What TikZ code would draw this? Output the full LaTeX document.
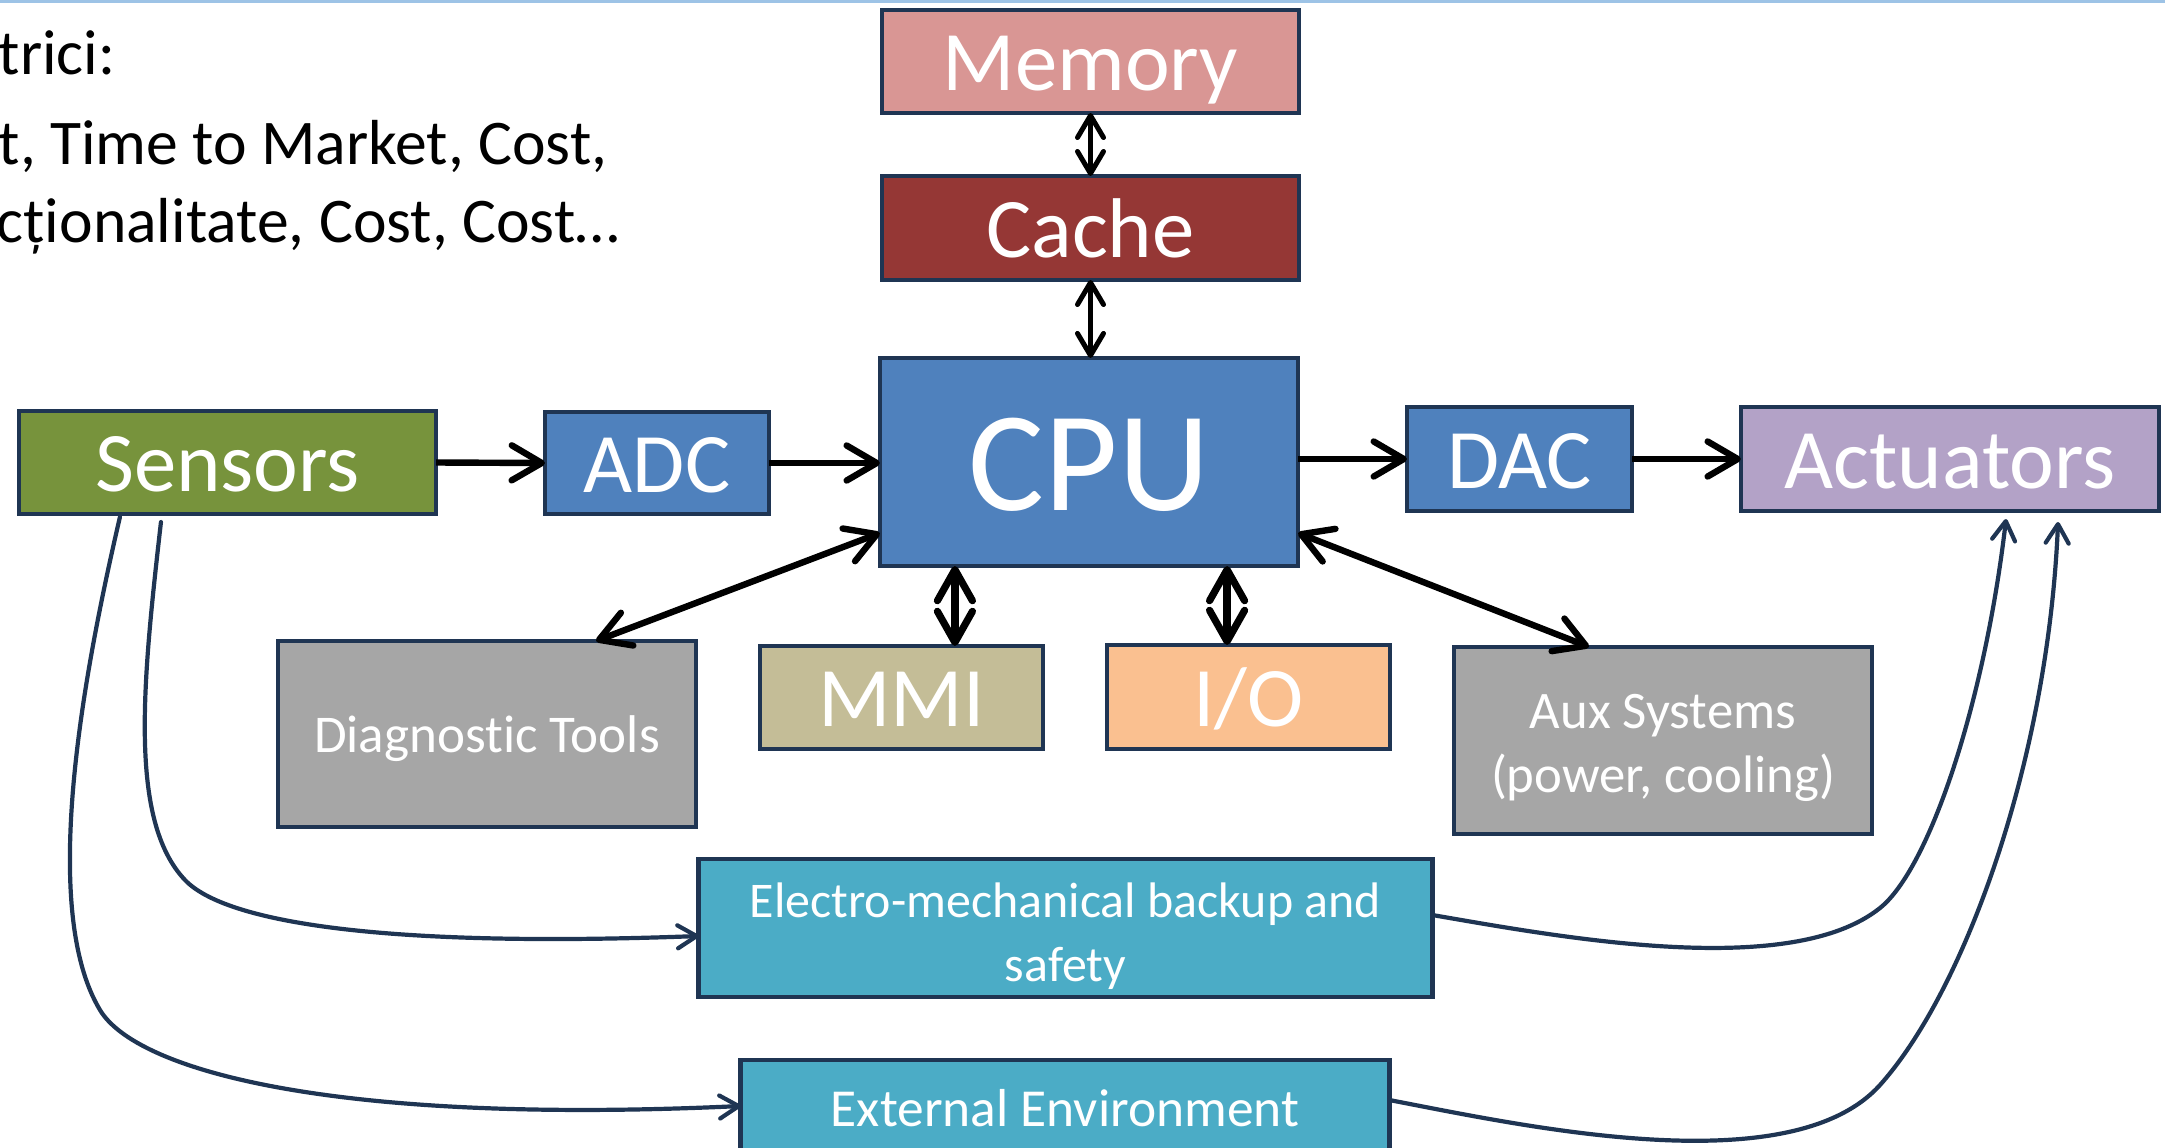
\documentclass[tikz,border=0pt]{standalone}
\usepackage{fontspec}
\setmainfont{Carlito}[Ligatures=NoCommon]
\usetikzlibrary{arrows.meta,calc}

\definecolor{frame}{RGB}{31,53,83}
\definecolor{memfill}{RGB}{217,150,148}
\definecolor{cachefill}{RGB}{149,55,53}
\definecolor{cpufill}{RGB}{79,129,189}
\definecolor{sensfill}{RGB}{119,147,60}
\definecolor{actfill}{RGB}{179,162,199}
\definecolor{greyfill}{RGB}{166,166,166}
\definecolor{mmifill}{RGB}{196,189,151}
\definecolor{iofill}{RGB}{250,192,144}
\definecolor{tealfill}{RGB}{75,172,198}
\definecolor{rulecol}{RGB}{157,195,230}

\begin{document}
\begin{tikzpicture}[x=0.01cm, y=-0.01cm,
  blk/.style={draw=frame, line width=0.047cm, inner sep=0pt, outer sep=0pt, text=white},
  big/.style={font=\fontsize{24.1}{28}\selectfont, text height=16.6pt, text depth=0pt},
  huge/.style={font=\fontsize{40.5}{46}\selectfont, text height=27.8pt, text depth=0pt},
  small/.style={font=\fontsize{#1}{18.2}\selectfont, align=center},
  smallone/.style={font=\fontsize{#1}{18.2}\selectfont, text height=10.6pt, text depth=0pt},
  note/.style={anchor=base west, inner sep=0pt, font=\fontsize{18.1}{22}\selectfont, text=black},
  thinlink/.style={line width=0.05cm, black, <->,
    >={Straight Barb[round, length=0.22cm, width=0.26cm]}},
  thicklink/.style={line width=0.064cm, black,
    >={Straight Barb[round, length=0.3cm, width=0.35cm]}},
  widelink/.style={line width=0.072cm, black, <->,
    >={Straight Barb[round, length=0.31cm, width=0.35cm]}},
  bypass/.style={line width=0.042cm, frame, line cap=round,
    -{Straight Barb[round, length=0.19cm, width=0.23cm]}}
]
\useasboundingbox (0,0) rectangle (2165,1148);
\clip (0,0) rectangle (2165,1148);

% thin rule along the top edge
\fill[rulecol] (0,0) rectangle (2165,3);

% heading text of the slide
\node[note] (t1) at (-2,74) {trici:};
\node[note] (t2) at (-2,164) {t, Time to Market, Cost,};
\node[note] (t3) at (-4,242) {cționalitate, Cost, Cost…};

% blocks
\node[blk, big, fill=memfill, minimum width=4.17cm, minimum height=1.03cm] (mem) at (1090.5,61.5) {Memory};
\node[blk, big, fill=cachefill, minimum width=4.17cm, minimum height=1.04cm] (cache) at (1090.5,228) {Cache};
\node[blk, huge, fill=cpufill, minimum width=4.18cm, minimum height=2.08cm] (cpu) at (1089,462) {CPU};
\node[blk, big, fill=sensfill, minimum width=4.17cm, minimum height=1.03cm] (sens) at (227.5,462.5) {Sensors};
\node[blk, big, fill=cpufill, minimum width=2.24cm, minimum height=1.02cm] (adc) at (657,463) {ADC};
\node[blk, big, fill=cpufill, minimum width=2.25cm, minimum height=1.04cm] (dac) at (1519.5,459) {DAC};
\node[blk, big, fill=actfill, minimum width=4.18cm, minimum height=1.04cm] (act) at (1950,459) {Actuators};
\node[blk, smallone=15.1, fill=greyfill, minimum width=4.18cm, minimum height=1.86cm] (diag) at (487,734) {Diagnostic Tools};
\node[blk, big, fill=mmifill, minimum width=2.83cm, minimum height=1.03cm] (mmi) at (901.5,697.5) {MMI};
\node[blk, big, fill=iofill, minimum width=2.83cm, minimum height=1.04cm] (io) at (1248.5,697) {I/O};
\node[blk, small=15.0, fill=greyfill, minimum width=4.18cm, minimum height=1.87cm] (aux) at (1663,740.5) {\rule{0pt}{14pt}Aux Systems\\(power, cooling)};
\node[blk, small=14.2, fill=tealfill, minimum width=7.33cm, minimum height=1.38cm] (emb) at (1065.5,928) {\rule{0pt}{14.7pt}Electro-mechanical backup and\\safety};
\node[blk, smallone=15.2, fill=tealfill, minimum width=6.48cm, minimum height=0.96cm] (ext) at (1065,1108) {External Environment};

% memory hierarchy
\draw[thinlink] (mem.south) -- (cache.north);
\draw[thinlink] (cache.south) -- (cache.south |- cpu.north);

% signal chain
\draw[thicklink, ->] (sens.east) -- (adc.west);
\draw[thicklink, ->] (adc.east) -- (adc.east -| cpu.west);
\draw[thicklink, ->] (dac.west -| cpu.east) -- (dac.west);
\draw[thicklink, ->] (dac.east) -- (act.west);

% peripherals around the CPU
\draw[thicklink, <->] ([yshift=-0.71cm]cpu.west) -- ([xshift=3.18cm]diag.north west);
\draw[thicklink, <->] ([yshift=-0.71cm]cpu.east) -- ([xshift=1.35cm]aux.north west);
\draw[widelink] ([xshift=0.75cm]cpu.south west) -- ([xshift=0.75cm]cpu.south west |- mmi.north);
\draw[widelink] ([xshift=3.47cm]cpu.south west) -- ([xshift=3.47cm]cpu.south west |- io.north);

% paths that bypass the controller
\draw[bypass] ([xshift=1.42cm, yshift=-0.08cm]sens.south west)
  .. controls (143,680) and (128,820) .. (185,880)
  .. controls (225,922) and (380,948) .. ([yshift=-0.08cm]emb.west);
\draw[bypass] ([xshift=1.01cm, yshift=-0.03cm]sens.south west)
  .. controls (82,680) and (40,910) .. (100,1010)
  .. controls (136,1070) and (330,1125) .. ([yshift=0.02cm]ext.west);
\draw[bypass] ([yshift=0.13cm]emb.east)
  .. controls (1560,937) and (1790,980) .. (1880,908)
  .. controls (1930,868) and (1985,700) .. ([xshift=2.65cm, yshift=-0.08cm]act.south west);
\draw[bypass] ([yshift=0.08cm]ext.east)
  .. controls (1520,1125) and (1790,1185) .. (1880,1085)
  .. controls (1965,990) and (2048,760) .. ([xshift=3.17cm, yshift=-0.11cm]act.south west);
\end{tikzpicture}
\end{document}
